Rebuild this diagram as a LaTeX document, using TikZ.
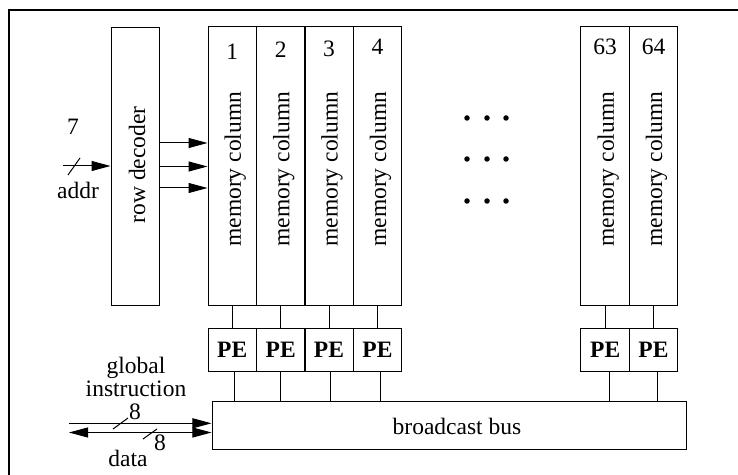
\documentclass[tikz,border=0pt]{standalone}
\usepackage{fontspec}
\setmainfont{Liberation Serif}
\usetikzlibrary{arrows.meta,calc}

\begin{document}
\begin{tikzpicture}[x=1bp,y=-1bp,line width=1bp,
  every node/.style={inner sep=0pt,font=\fontsize{23.5bp}{28bp}\selectfont},
  blk/.style={draw,line width=1bp},
  colbox/.style={blk,minimum width=48.5bp,minimum height=278.5bp},
  pebox/.style={blk,minimum width=48.5bp,minimum height=42bp,
    font=\fontsize{23.5bp}{28bp}\selectfont\bfseries},
  vlabel/.style={rotate=90},
  arr/.style={-{Triangle[length=19bp,width=10bp]}},
  darr/.style={{Triangle[length=19bp,width=10bp]}-{Triangle[length=19bp,width=10bp]}},
  dotmark/.style={circle,fill,minimum size=5.5bp}]
\useasboundingbox (0,0) rectangle (738,475);

% outer frame (only its top and left sides fall inside the page)
\draw[line width=2bp] (9,475) -- (9,10.5) -- (738,10.5);

% row decoder
\node[blk,minimum width=48bp,minimum height=277bp] (rd) at (135,166.5) {};
\node[vlabel] at ($(rd.center)+(2,-1.5)$) {row decoder};

% memory columns with their processing elements
\foreach \k/\xc/\lab/\bl in {1/232.25/1/60, 2/280.75/2/58,
    3/329/3/57, 4/377.5/4/55, 63/605.15/63/55, 64/653.5/64/55} {
  \node[colbox] (c\k) at (\xc,166.25) {};
  \node[vlabel] at ($(c\k.center)+(3,3)$) {memory column};
  \node[anchor=base] (num\k) at (\xc,\bl) {\lab};
  \node[pebox] (pe\k) at (\xc,350) {PE};
  \draw (c\k.south) -- (pe\k.north);
}

% broadcast bus
\node[blk,minimum width=474bp,minimum height=48bp] (bus) at (449,425) {};
\node[anchor=base] (buslab) at (457,434) {broadcast bus};
\foreach \k/\off in {1/1.75, 2/-0.75, 3/1, 4/2.5, 63/3.85, 64/4.2} {
  \coordinate (pb\k) at ($(pe\k.south)+(\off,0)$);
  \draw (pb\k) -- (pb\k |- bus.north);
}

% row decoder outputs
\foreach \i/\dy in {a/-23.5, b/0, c/21.5} {
  \coordinate (r\i) at ($(rd.east)+(0,\dy)$);
  \draw[arr] (r\i) -- (r\i -| c1.west);
}

% address input
\coordinate (addr) at (62.5,166);
\draw[arr] (addr) -- (addr -| rd.west);
\draw (68,175) -- (80,158);
\node[anchor=base] (seven) at (73,135) {7};
\node[anchor=base] (addrlab) at (78,199) {addr};

% ellipsis between column 4 and column 63
\foreach \yy in {118,159,201}
  \foreach \xx in {467,487,506}
    \node[dotmark] at (\xx,\yy) {};

% global instruction and data links
\coordinate (gi) at (69,423.3);
\coordinate (dt) at (69,432.5);
\draw[arr] (gi) -- (gi -| bus.west);
\draw[darr] (dt) -- (dt -| bus.west);
\draw (113,429) -- (128,418);
\draw (143,439) -- (157,429);
\node[anchor=base] (glob) at (136,373) {global};
\node[anchor=base] (instr) at (136,396) {instruction};
\node[anchor=base] (eighta) at (135,419) {8};
\node[anchor=base] (eightb) at (160,450) {8};
\node[anchor=base] (datalab) at (128,466) {data};
\end{tikzpicture}
\end{document}
